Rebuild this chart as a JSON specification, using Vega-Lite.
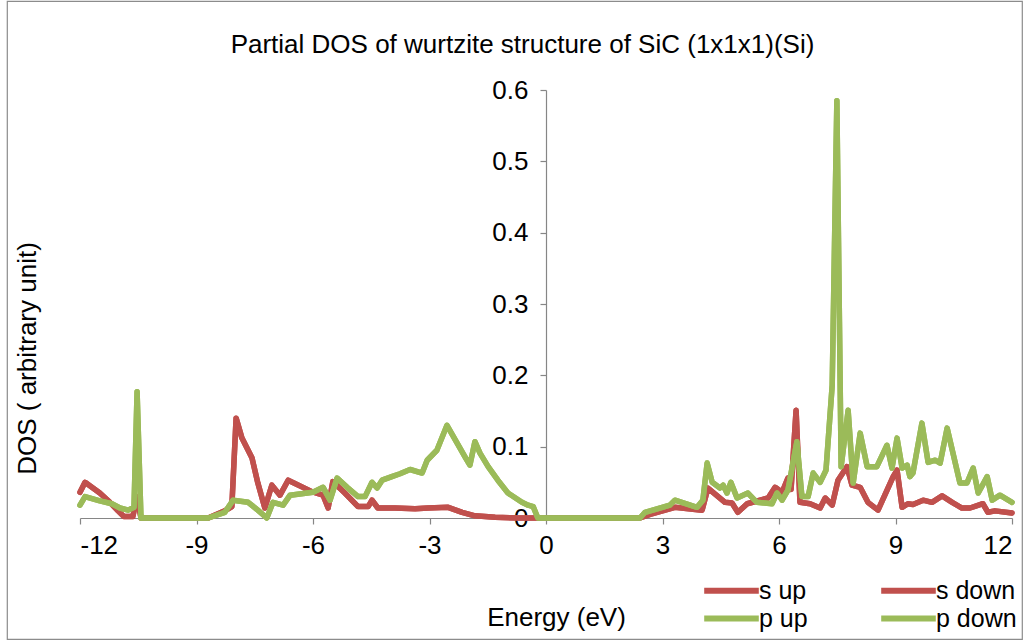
{
  "$schema": "https://vega.github.io/schema/vega-lite/v6.json",
  "autosize": {"type": "none"},
  "width": 1015,
  "height": 638,
  "padding": {"left": 7, "top": 1, "right": 11, "bottom": 2},
  "background": "white",
  "config": {
    "font": "Liberation Sans",
    "view": {"stroke": "#8c8c8c", "strokeWidth": 1.2},
    "axis": {"grid": false, "domainColor": "#868686", "domainWidth": 1.2, "tickColor": "#868686", "tickWidth": 1.2, "tickSize": 6, "labelColor": "black", "titleColor": "black", "labelFont": "Liberation Sans", "titleFont": "Liberation Sans", "titleFontWeight": "normal"}
  },
  "title": {
    "text": "Partial DOS of wurtzite structure of SiC (1x1x1)(Si)",
    "fontSize": 26,
    "fontWeight": "normal",
    "font": "Liberation Sans",
    "color": "black",
    "anchor": "middle",
    "frame": "group",
    "orient": "top",
    "offset": 0,
    "baseline": "alphabetic",
    "dx": 8,
    "dy": 78
  },
  "datasets": {
    "s": [
      {"E": -12.0, "DOS": 0.036}, {"E": -11.87, "DOS": 0.05}, {"E": -11.49, "DOS": 0.035}, {"E": -11.23, "DOS": 0.022},
      {"E": -11.02, "DOS": 0.01}, {"E": -10.87, "DOS": 0.002}, {"E": -10.64, "DOS": 0.002}, {"E": -10.53, "DOS": 0.03},
      {"E": -10.43, "DOS": 0.0}, {"E": -8.7, "DOS": 0.0}, {"E": -8.27, "DOS": 0.01}, {"E": -8.09, "DOS": 0.016},
      {"E": -7.98, "DOS": 0.14}, {"E": -7.83, "DOS": 0.112}, {"E": -7.57, "DOS": 0.084}, {"E": -7.42, "DOS": 0.049},
      {"E": -7.24, "DOS": 0.014}, {"E": -7.06, "DOS": 0.046}, {"E": -6.85, "DOS": 0.032}, {"E": -6.64, "DOS": 0.053},
      {"E": -6.03, "DOS": 0.037}, {"E": -5.74, "DOS": 0.032}, {"E": -5.61, "DOS": 0.014}, {"E": -5.49, "DOS": 0.051},
      {"E": -5.18, "DOS": 0.035}, {"E": -4.84, "DOS": 0.016}, {"E": -4.58, "DOS": 0.016}, {"E": -4.48, "DOS": 0.025},
      {"E": -4.33, "DOS": 0.014}, {"E": -3.89, "DOS": 0.014}, {"E": -3.37, "DOS": 0.013}, {"E": -3.04, "DOS": 0.014},
      {"E": -2.52, "DOS": 0.015}, {"E": -2.16, "DOS": 0.008}, {"E": -1.83, "DOS": 0.003}, {"E": -1.31, "DOS": 0.001},
      {"E": -0.67, "DOS": 0.0}, {"E": 0.0, "DOS": 0.0}, {"E": 2.42, "DOS": 0.0}, {"E": 2.68, "DOS": 0.005},
      {"E": 3.32, "DOS": 0.015}, {"E": 4.02, "DOS": 0.011}, {"E": 4.17, "DOS": 0.042}, {"E": 4.61, "DOS": 0.022},
      {"E": 4.79, "DOS": 0.021}, {"E": 4.94, "DOS": 0.008}, {"E": 5.18, "DOS": 0.02}, {"E": 5.72, "DOS": 0.028},
      {"E": 5.9, "DOS": 0.043}, {"E": 6.08, "DOS": 0.036}, {"E": 6.23, "DOS": 0.056}, {"E": 6.31, "DOS": 0.04},
      {"E": 6.44, "DOS": 0.151}, {"E": 6.54, "DOS": 0.022}, {"E": 6.8, "DOS": 0.02}, {"E": 7.06, "DOS": 0.014},
      {"E": 7.19, "DOS": 0.028}, {"E": 7.37, "DOS": 0.018}, {"E": 7.52, "DOS": 0.053}, {"E": 7.75, "DOS": 0.072},
      {"E": 7.88, "DOS": 0.046}, {"E": 8.09, "DOS": 0.043}, {"E": 8.29, "DOS": 0.022}, {"E": 8.55, "DOS": 0.011},
      {"E": 8.94, "DOS": 0.058}, {"E": 9.04, "DOS": 0.067}, {"E": 9.17, "DOS": 0.015}, {"E": 9.32, "DOS": 0.02},
      {"E": 9.45, "DOS": 0.019}, {"E": 9.71, "DOS": 0.025}, {"E": 9.94, "DOS": 0.022}, {"E": 10.2, "DOS": 0.031},
      {"E": 10.46, "DOS": 0.022}, {"E": 10.71, "DOS": 0.014}, {"E": 10.92, "DOS": 0.014}, {"E": 11.25, "DOS": 0.02},
      {"E": 11.38, "DOS": 0.008}, {"E": 11.56, "DOS": 0.01}, {"E": 12.0, "DOS": 0.007}
    ],
    "p": [
      {"E": -12.0, "DOS": 0.018}, {"E": -11.87, "DOS": 0.03}, {"E": -11.49, "DOS": 0.024}, {"E": -11.18, "DOS": 0.02},
      {"E": -10.97, "DOS": 0.014}, {"E": -10.76, "DOS": 0.011}, {"E": -10.61, "DOS": 0.015}, {"E": -10.53, "DOS": 0.177},
      {"E": -10.43, "DOS": 0.0}, {"E": -8.7, "DOS": 0.0}, {"E": -8.27, "DOS": 0.008}, {"E": -8.06, "DOS": 0.025},
      {"E": -7.67, "DOS": 0.022}, {"E": -7.42, "DOS": 0.011}, {"E": -7.19, "DOS": 0.0}, {"E": -7.03, "DOS": 0.022},
      {"E": -6.77, "DOS": 0.018}, {"E": -6.59, "DOS": 0.032}, {"E": -6.0, "DOS": 0.036}, {"E": -5.74, "DOS": 0.043},
      {"E": -5.56, "DOS": 0.025}, {"E": -5.38, "DOS": 0.056}, {"E": -5.12, "DOS": 0.043}, {"E": -4.84, "DOS": 0.03},
      {"E": -4.66, "DOS": 0.03}, {"E": -4.48, "DOS": 0.05}, {"E": -4.35, "DOS": 0.042}, {"E": -4.22, "DOS": 0.053},
      {"E": -3.97, "DOS": 0.058}, {"E": -3.76, "DOS": 0.062}, {"E": -3.5, "DOS": 0.068}, {"E": -3.19, "DOS": 0.063},
      {"E": -3.06, "DOS": 0.081}, {"E": -2.81, "DOS": 0.095}, {"E": -2.55, "DOS": 0.13}, {"E": -2.34, "DOS": 0.11},
      {"E": -2.09, "DOS": 0.086}, {"E": -1.96, "DOS": 0.074}, {"E": -1.83, "DOS": 0.107}, {"E": -1.7, "DOS": 0.091},
      {"E": -1.49, "DOS": 0.072}, {"E": -1.24, "DOS": 0.053}, {"E": -0.98, "DOS": 0.035}, {"E": -0.62, "DOS": 0.022},
      {"E": -0.46, "DOS": 0.018}, {"E": -0.33, "DOS": 0.016}, {"E": -0.21, "DOS": 0.0}, {"E": 2.42, "DOS": 0.0},
      {"E": 2.55, "DOS": 0.008}, {"E": 3.19, "DOS": 0.018}, {"E": 3.32, "DOS": 0.025}, {"E": 3.89, "DOS": 0.015},
      {"E": 4.04, "DOS": 0.025}, {"E": 4.15, "DOS": 0.077}, {"E": 4.28, "DOS": 0.05}, {"E": 4.48, "DOS": 0.042},
      {"E": 4.56, "DOS": 0.046}, {"E": 4.66, "DOS": 0.035}, {"E": 4.76, "DOS": 0.05}, {"E": 4.92, "DOS": 0.028},
      {"E": 5.2, "DOS": 0.035}, {"E": 5.43, "DOS": 0.022}, {"E": 5.82, "DOS": 0.02}, {"E": 5.95, "DOS": 0.035},
      {"E": 6.08, "DOS": 0.025}, {"E": 6.23, "DOS": 0.039}, {"E": 6.46, "DOS": 0.107}, {"E": 6.59, "DOS": 0.03},
      {"E": 6.75, "DOS": 0.03}, {"E": 6.88, "DOS": 0.063}, {"E": 7.06, "DOS": 0.05}, {"E": 7.21, "DOS": 0.067},
      {"E": 7.37, "DOS": 0.186}, {"E": 7.49, "DOS": 0.585}, {"E": 7.6, "DOS": 0.072}, {"E": 7.78, "DOS": 0.151},
      {"E": 7.91, "DOS": 0.049}, {"E": 8.09, "DOS": 0.119}, {"E": 8.27, "DOS": 0.072}, {"E": 8.52, "DOS": 0.072},
      {"E": 8.78, "DOS": 0.102}, {"E": 8.91, "DOS": 0.07}, {"E": 9.04, "DOS": 0.112}, {"E": 9.17, "DOS": 0.07},
      {"E": 9.3, "DOS": 0.074}, {"E": 9.37, "DOS": 0.058}, {"E": 9.45, "DOS": 0.063}, {"E": 9.68, "DOS": 0.133},
      {"E": 9.84, "DOS": 0.078}, {"E": 10.02, "DOS": 0.081}, {"E": 10.15, "DOS": 0.077}, {"E": 10.33, "DOS": 0.126},
      {"E": 10.48, "DOS": 0.091}, {"E": 10.66, "DOS": 0.049}, {"E": 10.84, "DOS": 0.049}, {"E": 11.0, "DOS": 0.07},
      {"E": 11.13, "DOS": 0.035}, {"E": 11.36, "DOS": 0.058}, {"E": 11.49, "DOS": 0.025}, {"E": 11.69, "DOS": 0.032},
      {"E": 12.0, "DOS": 0.022}
    ]
  },
  "encoding": {
    "x": {
      "field": "E",
      "type": "quantitative",
      "scale": {"domain": [-12, 12], "range": [73, 1005], "nice": false, "zero": false},
      "axis": {
        "orient": "bottom",
        "offset": -121,
        "values": [-12, -9, -6, -3, 0, 3, 6, 9, 12],
        "labelExpr": "datum.value + ''",
        "labelFontSize": 26,
        "labelPadding": 8,
        "title": "Energy (eV)",
        "titleFontSize": 26,
        "titleX": 549,
        "titleY": 99,
        "titleBaseline": "middle"
      }
    },
    "y": {
      "field": "DOS",
      "type": "quantitative",
      "scale": {"domain": [0, 0.6], "range": [517, 89], "nice": false},
      "axis": {
        "orient": "left",
        "offset": -539,
        "values": [0, 0.1, 0.2, 0.3, 0.4, 0.5, 0.6],
        "labelExpr": "datum.value + ''",
        "labelFontSize": 26,
        "labelPadding": 12,
        "title": "DOS ( arbitrary unit)",
        "titleFontSize": 26,
        "titleX": -519,
        "titleY": 357,
        "titleAngle": -90,
        "titleBaseline": "middle",
        "titleAlign": "center"
      }
    }
  },
  "layer": [
    {
      "data": {"name": "s"},
      "mark": {"type": "line", "strokeWidth": 5.5, "strokeCap": "round", "strokeJoin": "round"},
      "encoding": {"color": {"datum": "s up"}}
    },
    {
      "data": {"name": "s"},
      "mark": {"type": "line", "strokeWidth": 5.5, "strokeCap": "round", "strokeJoin": "round"},
      "encoding": {"color": {"datum": "s down"}}
    },
    {
      "data": {"name": "p"},
      "mark": {"type": "line", "strokeWidth": 5.5, "strokeCap": "round", "strokeJoin": "round"},
      "encoding": {"color": {"datum": "p up"}}
    },
    {
      "data": {"name": "p"},
      "mark": {"type": "line", "strokeWidth": 5.5, "strokeCap": "round", "strokeJoin": "round"},
      "encoding": {
        "color": {
          "datum": "p down",
          "scale": {"domain": ["s up", "s down", "p up", "p down"], "range": ["#C0504D", "#C0504D", "#9BBB59", "#9BBB59"]},
          "legend": {
            "title": null,
            "orient": "none",
            "direction": "horizontal",
            "legendX": 697,
            "legendY": 576,
            "columns": 2,
            "columnPadding": 61,
            "rowPadding": 1,
            "padding": 0,
            "symbolType": "M-2.6,0H2.6",
            "symbolSize": 441,
            "symbolOffset": 14,
            "symbolStrokeWidth": 6,
            "labelFontSize": 25,
            "labelFont": "Liberation Sans",
            "labelColor": "black",
            "labelOffset": 14
          }
        }
      }
    }
  ]
}
